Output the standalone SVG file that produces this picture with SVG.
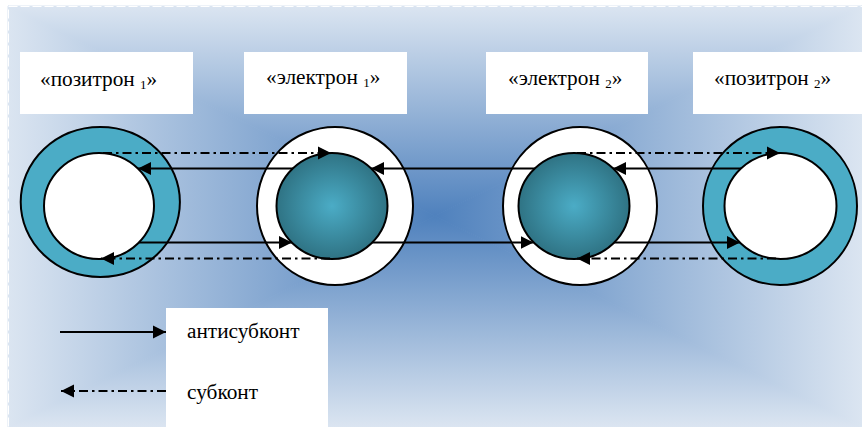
<svg xmlns="http://www.w3.org/2000/svg" width="862" height="427" viewBox="0 0 862 427">
<defs>
<linearGradient id="gT" gradientUnits="userSpaceOnUse" x1="0" y1="216" x2="0" y2="6"><stop offset="0" stop-color="#4f81bd"/><stop offset="1" stop-color="#dbe5f1"/></linearGradient>
<linearGradient id="gB" gradientUnits="userSpaceOnUse" x1="0" y1="216" x2="0" y2="427"><stop offset="0" stop-color="#4f81bd"/><stop offset="1" stop-color="#dbe5f1"/></linearGradient>
<linearGradient id="gL" gradientUnits="userSpaceOnUse" x1="435" y1="0" x2="8" y2="0"><stop offset="0" stop-color="#4f81bd"/><stop offset="1" stop-color="#dbe5f1"/></linearGradient>
<linearGradient id="gR" gradientUnits="userSpaceOnUse" x1="435" y1="0" x2="862" y2="0"><stop offset="0" stop-color="#4f81bd"/><stop offset="1" stop-color="#dbe5f1"/></linearGradient>
<radialGradient id="sphere" cx="0.5" cy="0.5" r="0.5"><stop offset="0" stop-color="#4bacc6"/><stop offset="1" stop-color="#2f7384"/></radialGradient>
<marker id="ah" markerUnits="userSpaceOnUse" viewBox="0 0 14 14" markerWidth="14" markerHeight="14" refX="13" refY="7" orient="auto"><path d="M0,0.5 L13,7 L0,13.5 Z" fill="#000"/></marker>
</defs>
<style>
.ring{fill:#4bacc6;stroke:#000;stroke-width:2}
.white{fill:#fff;stroke:#000;stroke-width:2}
.sph{fill:url(#sphere);stroke:#000;stroke-width:2}
.box{fill:#fff}
.lbl{font-family:'Liberation Serif','DejaVu Serif',serif;font-size:21.3px;fill:#000}
.sub{font-size:13px}
.solid{stroke:#000;stroke-width:2;fill:none;marker-end:url(#ah)}
.dd{stroke:#000;stroke-width:1.8;fill:none;stroke-dasharray:9 4 2.5 4;marker-end:url(#ah)}
</style>
<g id="background">
<polygon points="8,6 862,6 435,216" fill="url(#gT)" stroke="url(#gT)" stroke-width="1"/>
<polygon points="8,427 862,427 435,216" fill="url(#gB)" stroke="url(#gB)" stroke-width="1"/>
<polygon points="8,6 8,427 435,216" fill="url(#gL)" stroke="url(#gL)" stroke-width="1"/>
<polygon points="862,6 862,427 435,216" fill="url(#gR)" stroke="url(#gR)" stroke-width="1"/>
<rect x="8.5" y="6.5" width="860" height="430" fill="none" stroke="#ffffff" stroke-width="1" stroke-dasharray="9 3"/>
</g>
<g id="label-positron1"><rect class="box" x="20" y="52" width="173" height="62"/><text class="lbl" font-family="Liberation Serif, serif" x="40" y="86">«позитрон <tspan class="sub" dy="3">1</tspan><tspan dy="-3">»</tspan></text></g>
<g id="label-electron1"><rect class="box" x="244" y="52" width="163" height="62"/><text class="lbl" font-family="Liberation Serif, serif" x="266" y="84">«электрон <tspan class="sub" dy="3">1</tspan><tspan dy="-3">»</tspan></text></g>
<g id="label-electron2"><rect class="box" x="486" y="52" width="162" height="62"/><text class="lbl" font-family="Liberation Serif, serif" x="508" y="85">«электрон <tspan class="sub" dy="3">2</tspan><tspan dy="-3">»</tspan></text></g>
<g id="label-positron2"><rect class="box" x="693" y="52" width="169" height="62"/><text class="lbl" font-family="Liberation Serif, serif" x="714" y="85">«позитрон <tspan class="sub" dy="3">2</tspan><tspan dy="-3">»</tspan></text></g>
<g id="positron1"><ellipse class="ring" cx="100.3" cy="202" rx="79.6" ry="75"/><ellipse class="white" cx="99" cy="206" rx="55" ry="53"/></g>
<g id="electron1"><ellipse class="white" cx="335" cy="206" rx="78" ry="79"/><ellipse class="sph" cx="332" cy="206" rx="55.5" ry="53"/></g>
<g id="electron2"><ellipse class="white" cx="580" cy="206" rx="77" ry="79"/><ellipse class="sph" cx="574" cy="206" rx="55.5" ry="53"/></g>
<g id="positron2"><ellipse class="ring" cx="780" cy="206" rx="77" ry="79"/><ellipse class="white" cx="780.5" cy="206" rx="56" ry="53"/></g>
<g id="connectors">
<line class="dd" x1="103" y1="153" x2="331" y2="153"/>
<line class="dd" x1="577" y1="153" x2="780" y2="153"/>
<line class="solid" x1="293" y1="168.5" x2="138" y2="168.5"/>
<line class="solid" x1="535" y1="168.5" x2="371" y2="168.5"/>
<line class="solid" x1="741" y1="168.5" x2="613" y2="168.5"/>
<line class="solid" x1="139" y1="242.5" x2="292" y2="242.5"/>
<line class="solid" x1="372" y1="242.5" x2="533.5" y2="242.5"/>
<line class="solid" x1="614" y1="242.5" x2="740" y2="242.5"/>
<line class="dd" x1="330" y1="258.5" x2="101" y2="258.5"/>
<line class="dd" x1="776" y1="258.5" x2="577" y2="258.5"/>
</g>
<g id="legend">
<rect class="box" x="166" y="308" width="162" height="119"/>
<line class="solid" x1="60" y1="332" x2="166" y2="332"/>
<line class="dd" x1="166" y1="391" x2="61" y2="391"/>
<text class="lbl" font-family="Liberation Serif, serif" x="187" y="338">антисубконт</text>
<text class="lbl" font-family="Liberation Serif, serif" x="187" y="399">субконт</text>
</g>
</svg>
